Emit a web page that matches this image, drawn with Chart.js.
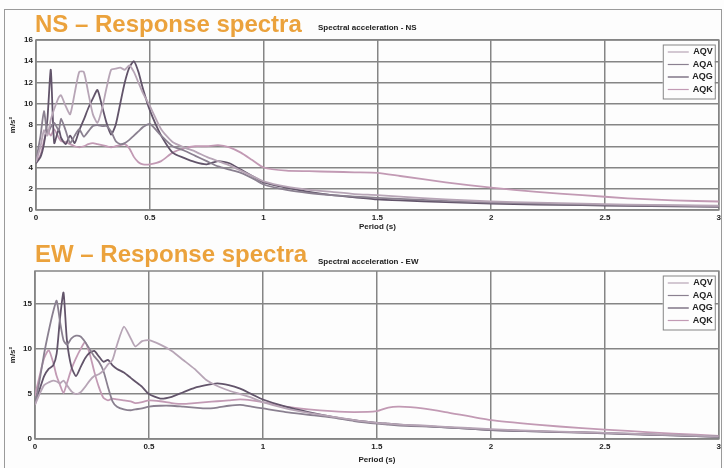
<!DOCTYPE html>
<html>
<head>
<meta charset="utf-8">
<script src="https://cdn.jsdelivr.net/npm/chart.js@4.4.1/dist/chart.umd.min.js"></script>
<style>
body { margin: 0; background: #fdfdfd; }
#page { position: relative; width: 724px; height: 468px; overflow: hidden; font-family: "Liberation Sans", Arial, sans-serif; }
#frame { position: absolute; left: 4px; top: 9px; width: 716px; height: 470px; border: 1px solid #9a9a9a; }
canvas { position: absolute; left: 0; }
.title { position: absolute; left: 35px; color: #eba23c; font-weight: bold; font-size: 24px; line-height: 24px; white-space: nowrap; }
.sub { position: absolute; left: 318px; font-size: 8px; line-height: 8px; font-weight: bold; color: #222; white-space: nowrap; }
</style>
</head>
<body>
<div id="page">
  <div id="frame"></div>
  <canvas id="nsChart" width="724" height="232" style="top:0"></canvas>
  <canvas id="ewChart" width="724" height="236" style="top:232px"></canvas>
  <div class="title" style="top:12px">NS – Response spectra</div>
  <div class="sub" style="top:24px">Spectral acceleration - NS</div>
  <div class="title" style="top:242px">EW – Response spectra</div>
  <div class="sub" style="top:258px">Spectral acceleration - EW</div>
</div>
<script>
const seriesNames = ['AQV', 'AQA', 'AQG', 'AQK'];

// NS component
const nsPeriod = [0, 0.02, 0.035, 0.05, 0.065, 0.08, 0.1, 0.11, 0.13, 0.15, 0.17, 0.19, 0.21, 0.23, 0.25, 0.27, 0.29, 0.31, 0.33, 0.35,
    0.37, 0.39, 0.41, 0.43, 0.45, 0.47, 0.5, 0.55, 0.6, 0.65, 0.7, 0.75, 0.8, 0.85, 0.9, 0.95, 1.0, 1.1, 1.2, 1.3,
    1.4, 1.5, 1.6, 1.8, 2.0, 2.2, 2.4, 2.6, 2.8, 3.0];
const nsAQV = [4.5, 6.0, 7.5, 7.0, 8.5, 9.5, 10.6, 10.8, 9.8, 9.0, 11.0, 13.0, 13.0, 11.0, 9.0, 8.2, 9.5, 11.5, 13.2, 13.3,
    13.4, 13.2, 13.6, 13.0, 12.0, 11.0, 9.8, 7.6, 6.4, 5.9, 5.5, 5.0, 4.6, 4.2, 3.7, 3.2, 2.7, 2.2, 1.9, 1.7,
    1.5, 1.4, 1.25, 1.0, 0.8, 0.7, 0.6, 0.5, 0.45, 0.4];
const nsAQA = [4.6, 7.0, 9.3, 7.2, 7.8, 8.2, 7.5, 8.6, 7.5, 6.3, 7.0, 7.6, 6.9, 7.4, 7.9, 8.0, 7.9, 7.9, 7.4, 6.5,
    6.2, 6.3, 6.6, 7.0, 7.4, 7.8, 8.1, 7.0, 6.0, 5.6, 5.1, 4.6, 4.1, 3.8, 3.5, 3.0, 2.4, 1.9, 1.6, 1.4,
    1.25, 1.15, 1.05, 0.85, 0.7, 0.6, 0.5, 0.45, 0.4, 0.35];
const nsAQG = [4.4, 5.0, 6.2, 8.5, 13.2, 6.3, 7.6, 6.8, 6.2, 7.0, 6.3, 7.5, 8.5, 9.6, 10.5, 11.3, 9.8, 8.2, 7.1, 8.0,
    10.0, 12.0, 13.4, 14.0, 13.0, 11.4, 9.4, 7.0, 5.4, 4.9, 4.5, 4.3, 4.6, 4.4, 3.8, 3.2, 2.6, 2.1, 1.7, 1.4,
    1.2, 1.0, 0.9, 0.75, 0.6, 0.5, 0.45, 0.4, 0.35, 0.3];
const nsAQK = [4.5, 5.2, 6.5, 7.5, 7.0, 7.6, 6.8, 6.5, 6.4, 6.2, 6.0, 5.9, 6.0, 6.2, 6.3, 6.2, 6.1, 6.0, 5.9, 6.0,
    6.1, 6.2, 5.8, 5.0, 4.5, 4.3, 4.3, 4.6, 5.4, 5.8, 6.0, 6.0, 6.1, 5.9, 5.4, 4.7, 4.0, 3.7, 3.65, 3.6,
    3.55, 3.5, 3.2, 2.6, 2.1, 1.7, 1.4, 1.1, 0.9, 0.8];

// EW component
const ewPeriod = [0, 0.02, 0.04, 0.06, 0.08, 0.095, 0.11, 0.125, 0.14, 0.16, 0.18, 0.2, 0.22, 0.24, 0.26, 0.28, 0.3, 0.32, 0.34, 0.36,
    0.39, 0.42, 0.44, 0.47, 0.5, 0.55, 0.6, 0.65, 0.7, 0.75, 0.8, 0.85, 0.9, 0.95, 1.0, 1.1, 1.2, 1.3, 1.4, 1.5,
    1.55, 1.6, 1.7, 1.8, 2.0, 2.2, 2.4, 2.6, 2.8, 3.0];
const ewAQV = [3.8, 5.0, 6.0, 6.3, 6.5, 6.4, 6.2, 6.5, 6.0, 5.3, 5.0, 5.2, 5.8, 6.5, 7.0, 7.2, 7.6, 8.3, 8.8, 10.5,
    12.5, 11.2, 10.3, 10.9, 11.0, 10.5, 9.8, 8.8, 7.8, 6.6, 5.9, 5.4, 5.0, 4.6, 4.1, 3.4, 2.9, 2.5, 2.1, 1.8,
    1.7, 1.6, 1.5, 1.35, 1.1, 0.9, 0.75, 0.6, 0.45, 0.3];
const ewAQA = [3.8, 6.5, 9.5, 12.0, 14.2, 15.4, 13.0, 11.0, 10.5, 11.2, 11.5, 11.4, 10.8, 10.0, 9.2, 8.6, 7.6, 5.8, 4.2, 3.6,
    3.3, 3.2, 3.3, 3.4, 3.6, 3.7, 3.7, 3.6, 3.5, 3.4, 3.5, 3.7, 3.8, 3.6, 3.4, 3.0, 2.7, 2.4, 2.0, 1.7,
    1.6, 1.5, 1.4, 1.3, 1.0, 0.85, 0.75, 0.6, 0.4, 0.25];
const ewAQG = [4.0, 5.5, 7.0, 7.8, 8.2, 9.5, 13.5, 16.3, 11.0, 8.0, 7.0, 8.0, 9.0, 9.6, 9.8, 9.2, 8.6, 8.8, 8.2, 7.8,
    7.4, 6.8, 6.4, 5.8, 5.0, 4.5, 4.7, 5.2, 5.7, 6.0, 6.2, 6.0, 5.6, 5.0, 4.4, 3.6, 3.0, 2.5, 2.1, 1.8,
    1.7, 1.6, 1.45, 1.3, 1.0, 0.85, 0.7, 0.55, 0.4, 0.25];
const ewAQK = [4.8, 7.0, 9.0, 9.9, 8.5, 7.0, 6.0, 5.1, 6.2, 7.8, 9.0, 10.0, 10.8, 9.5, 7.5, 5.8, 4.6, 4.3, 4.5, 4.4,
    4.3, 4.2, 4.0, 4.1, 4.3, 4.2, 4.0, 3.9, 4.0, 4.1, 4.2, 4.3, 4.4, 4.3, 4.1, 3.6, 3.3, 3.1, 3.0, 3.1,
    3.5, 3.6, 3.4, 3.0, 2.1, 1.6, 1.2, 0.9, 0.6, 0.35];

const lineColors = ['#b7a5b6', '#8a8090', '#62546a', '#c29ab4'];
const gridColor = '#858585';
const smallFont = { family: '"Liberation Sans", Arial, sans-serif', size: 8, weight: 'bold' };

// plot border + legend box inside the plot, top right
const frameAndLegend = {
    id: 'frameAndLegend',
    beforeDatasetsDraw(chart) {
        const a = chart.chartArea, c = chart.ctx;
        c.save();
        c.strokeStyle = gridColor;
        c.lineWidth = 1.5;
        c.strokeRect(a.left, a.top, a.right - a.left, a.bottom - a.top);
        c.restore();
    },
    afterDatasetsDraw(chart) {
        const a = chart.chartArea, c = chart.ctx;
        const w = 52, h = 54, x0 = a.right - w - 4, y0 = a.top + 4.5;
        c.save();
        c.fillStyle = '#fdfdfd';
        c.fillRect(x0, y0, w, h);
        c.strokeStyle = gridColor;
        c.lineWidth = 1;
        c.strokeRect(x0 + 0.5, y0 + 0.5, w, h);
        c.font = 'bold 9px "Liberation Sans", Arial, sans-serif';
        c.textAlign = 'right';
        c.textBaseline = 'middle';
        chart.data.datasets.forEach((ds, i) => {
            const y = y0 + 7.5 + i * 12.5;
            c.strokeStyle = ds.borderColor;
            c.lineWidth = 1.2;
            c.beginPath();
            c.moveTo(x0 + 5, y);
            c.lineTo(x0 + 26, y);
            c.stroke();
            c.fillStyle = '#222';
            c.fillText(ds.label, x0 + w - 2, y);
        });
        c.restore();
    }
};

function makeChart(id, periods, values, yMax, yStep, yWidth, padTop, xHeight, titlePad) {
    return new Chart(document.getElementById(id), {
        type: 'line',
        data: {
            datasets: values.map((v, i) => ({
                label: seriesNames[i],
                data: periods.map((t, k) => ({ x: t, y: v[k] })),
                borderColor: lineColors[i],
                borderWidth: 1.8,
                pointRadius: 0,
                tension: 0.2,
                fill: false
            }))
        },
        options: {
            responsive: false,
            animation: false,
            layout: { padding: { top: padTop, right: 4, left: 0, bottom: 0 } },
            plugins: { legend: { display: false }, tooltip: { enabled: false } },
            scales: {
                x: {
                    type: 'linear', min: 0, max: 3,
                    ticks: { stepSize: 0.5, font: smallFont, color: '#222', padding: 3, maxRotation: 0,
                        callback: v => String(Math.round(v * 10) / 10) },
                    grid: { color: gridColor, lineWidth: 1.5, drawTicks: false },
                    border: { display: false },
                    title: { display: true, text: 'Period (s)', font: smallFont, color: '#222', padding: { top: 0, bottom: titlePad } },
                    afterFit(s) { s.height = xHeight; }
                },
                y: {
                    min: 0, max: yMax,
                    ticks: { stepSize: yStep, font: smallFont, color: '#222', padding: 3 },
                    grid: { color: gridColor, lineWidth: 1.5, drawTicks: false },
                    border: { display: false },
                    title: { display: true, text: 'm/s²', font: smallFont, color: '#222', padding: 8 },
                    afterBuildTicks(s) {
                        s.ticks = s.ticks.filter(t => Math.abs(t.value / yStep - Math.round(t.value / yStep)) < 1e-6);
                    },
                    afterFit(s) { s.width = yWidth; }
                }
            }
        },
        plugins: [frameAndLegend]
    });
}

const nsChart = makeChart('nsChart', nsPeriod, [nsAQV, nsAQA, nsAQG, nsAQK], 16, 2, 36, 40, 22, 0);
const ewChart = makeChart('ewChart', ewPeriod, [ewAQV, ewAQA, ewAQG, ewAQK], 18.7, 5, 35, 39, 29, 3);
</script>
</body>
</html>
